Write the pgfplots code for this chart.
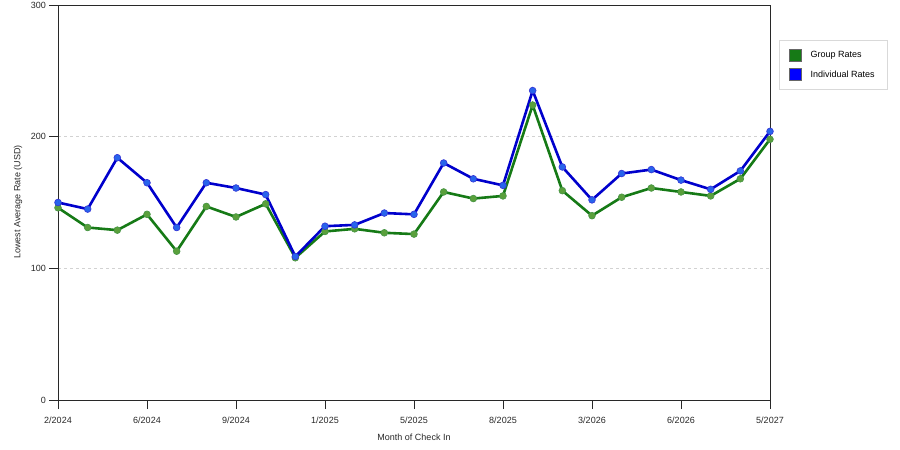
\documentclass[border=0pt]{standalone}
\usepackage{fontspec}
\setmainfont{Liberation Sans}
\usepackage{pgfplots}
\pgfplotsset{compat=1.18}
\definecolor{grpline}{RGB}{22,122,22}
\definecolor{grpmark}{RGB}{90,160,60}
\definecolor{indline}{RGB}{0,0,204}
\definecolor{indmark}{RGB}{40,100,235}
\definecolor{axisgray}{RGB}{40,40,40}

\pgfplotstableread{
idx group indiv
0  146 150
1  131 145
2  129 184
3  141 165
4  113 131
5  147 165
6  139 161
7  149 156
8  108 109
9  128 132
10 130 133
11 127 142
12 126 141
13 158 180
14 153 168
15 155 163
16 224 235
17 159 177
18 140 152
19 154 172
20 161 175
21 158 167
22 155 160
23 168 174
24 198 204
}\rates

\begin{document}
\fontsize{9}{11}\selectfont
\begin{tikzpicture}[x=1pt,y=1pt]
\useasboundingbox (0,0) rectangle (900,450);
\begin{axis}[
    at={(58pt,50pt)}, anchor=south west,
    width=712pt, height=395pt, scale only axis,
    xmin=0, xmax=24, ymin=0, ymax=300,
    xtick={0,3,...,24},
    xticklabels={2/2024,6/2024,9/2024,1/2025,5/2025,8/2025,3/2026,6/2026,5/2027},
    ytick={0,100,200,300},
    xtick pos=bottom, ytick pos=left,
    tick align=outside,
    major tick length=9pt,
    tick style={axisgray, line width=0.8pt},
    axis line style={axisgray, line width=0.8pt},
    ymajorgrids,
    grid style={dashed, gray!35, line width=0.6pt},
    /pgf/number format/assume math mode=true,
    ticklabel style={font=\fontsize{9}{11}\selectfont, text=axisgray},
    xticklabel style={yshift=-5pt},
    xlabel={Month of Check In},
    ylabel={Lowest Average Rate (USD)},
    label style={font=\fontsize{9}{11}\selectfont, text=axisgray},
    xlabel style={at={(axis description cs:0.5,-0.0937)}, anchor=center},
    ylabel style={at={(axis description cs:-0.0562,0.501)}, anchor=center},
    legend cell align=left,
    legend style={at={(1.0126,0.9114)}, anchor=north west,
        draw=gray!30, font=\fontsize{9}{11}\selectfont,
        inner xsep=10pt, inner ysep=8.5pt, row sep=7pt},
]
\addplot[grpline, line width=2.6pt, mark=*, mark size=3.4pt,
    mark options={fill=grpmark, draw=grpline!80!white, line width=0.6pt},
    legend image code/.code={\draw[fill=grpline, draw=black!60, line width=0.5pt] (0pt,-6pt) rectangle (12pt,6pt); \path (18pt,0pt);}]
    table[x=idx, y=group] {\rates};
\addlegendentry{Group Rates}
\addplot[indline, line width=2.6pt, mark=*, mark size=3.4pt,
    mark options={fill=indmark, draw=indline!80!white, line width=0.6pt},
    legend image code/.code={\draw[fill=blue, draw=black!60, line width=0.5pt] (0pt,-6pt) rectangle (12pt,6pt); \path (18pt,0pt);}]
    table[x=idx, y=indiv] {\rates};
\addlegendentry{Individual Rates}
\end{axis}
\end{tikzpicture}
\end{document}
